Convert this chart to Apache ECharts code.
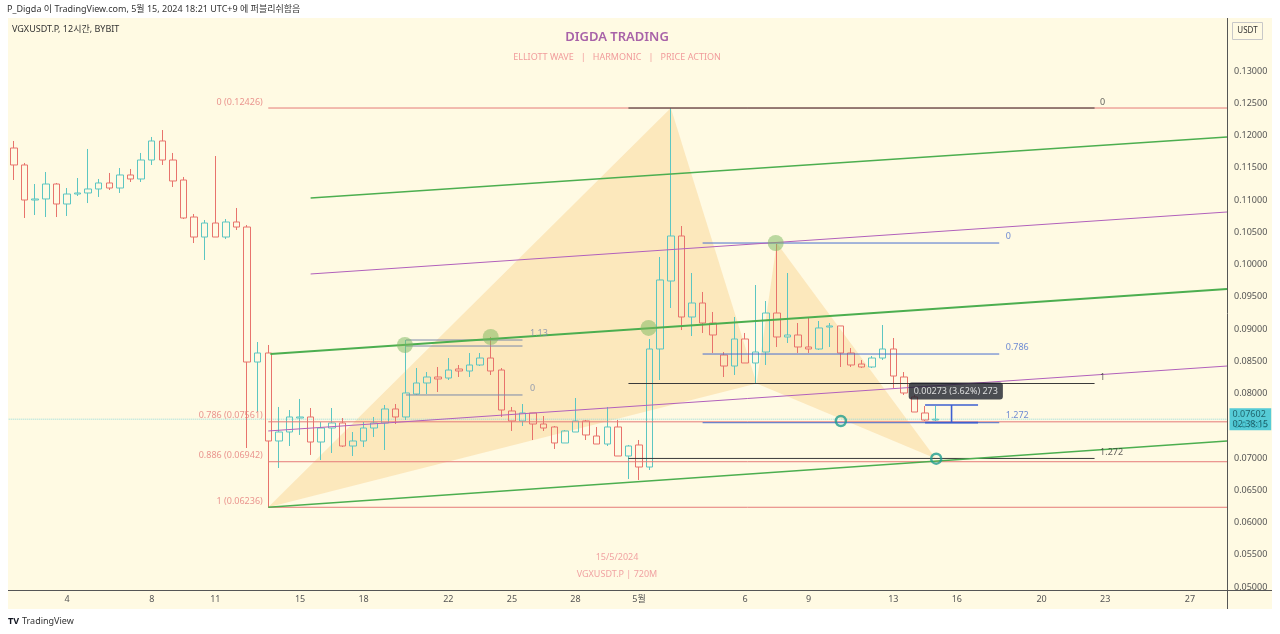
<!DOCTYPE html>
<html>
<head>
<meta charset="utf-8">
<script src="https://cdn.jsdelivr.net/npm/echarts@6/dist/echarts.min.js"></script>
<style>
html, body { margin: 0; padding: 0; background: #fff; }
#wrap { position: relative; width: 1280px; height: 634px; }
#bg { position: absolute; left: 8px; top: 18px; width: 1264px; height: 591px; background: #fffae3; }
#chart { position: absolute; left: 0; top: 0; width: 1280px; height: 634px; }
</style>
</head>
<body>
<div id="wrap"><div id="bg"></div><div id="chart"></div></div>
<script>
var FONT = '"Noto Sans", "Noto Sans CJK KR", sans-serif';

// 12시간봉 [시가, 종가, 저가, 고가]  (4/1 12:00 부터)
var candles = [
    [0.11806, 0.11543, 0.11310, 0.11915],
    [0.11543, 0.11000, 0.10721, 0.11574],
    [0.11000, 0.11016, 0.10767, 0.11248],
    [0.11016, 0.11248, 0.10736, 0.11434],
    [0.11248, 0.10938, 0.10736, 0.11264],
    [0.10938, 0.11093, 0.10752, 0.11186],
    [0.11093, 0.11109, 0.11062, 0.11341],
    [0.11109, 0.11171, 0.10953, 0.11791],
    [0.11171, 0.11264, 0.11047, 0.11326],
    [0.11264, 0.11186, 0.11155, 0.11419],
    [0.11186, 0.11388, 0.11109, 0.11496],
    [0.11388, 0.11326, 0.11279, 0.11481],
    [0.11326, 0.11620, 0.11279, 0.11729],
    [0.11620, 0.11915, 0.11543, 0.11977],
    [0.11915, 0.11620, 0.11543, 0.12085],
    [0.11620, 0.11295, 0.11202, 0.11729],
    [0.11310, 0.10721, 0.10705, 0.11357],
    [0.10736, 0.10426, 0.10333, 0.10783],
    [0.10426, 0.10643, 0.10070, 0.10690],
    [0.10643, 0.10426, 0.10426, 0.11682],
    [0.10426, 0.10659, 0.10395, 0.10705],
    [0.10659, 0.10581, 0.10535, 0.10876],
    [0.10581, 0.08488, 0.07155, 0.10612],
    [0.08488, 0.08628, 0.07713, 0.08798],
    [0.08628, 0.07264, 0.06236, 0.08752],
    [0.07264, 0.07403, 0.06845, 0.07791],
    [0.07403, 0.07636, 0.07186, 0.07744],
    [0.07620, 0.07636, 0.07357, 0.07915],
    [0.07636, 0.07248, 0.07047, 0.07775],
    [0.07248, 0.07465, 0.06969, 0.07558],
    [0.07465, 0.07543, 0.07078, 0.07775],
    [0.07543, 0.07186, 0.07171, 0.07620],
    [0.07186, 0.07264, 0.07031, 0.07403],
    [0.07264, 0.07465, 0.07171, 0.07558],
    [0.07465, 0.07543, 0.07326, 0.07636],
    [0.07543, 0.07760, 0.07124, 0.07822],
    [0.07760, 0.07636, 0.07527, 0.07837],
    [0.07636, 0.08008, 0.07589, 0.08829],
    [0.07992, 0.08163, 0.07977, 0.08395],
    [0.08163, 0.08256, 0.07992, 0.08333],
    [0.08256, 0.08225, 0.08023, 0.08411],
    [0.08240, 0.08364, 0.08209, 0.08550],
    [0.08380, 0.08349, 0.08256, 0.08442],
    [0.08349, 0.08442, 0.08256, 0.08628],
    [0.08442, 0.08550, 0.08426, 0.08628],
    [0.08550, 0.08349, 0.08287, 0.08876],
    [0.08364, 0.07744, 0.07636, 0.08395],
    [0.07729, 0.07574, 0.07419, 0.07791],
    [0.07574, 0.07698, 0.07496, 0.07837],
    [0.07698, 0.07527, 0.07279, 0.07698],
    [0.07527, 0.07465, 0.07419, 0.07651],
    [0.07481, 0.07233, 0.07140, 0.07496],
    [0.07233, 0.07419, 0.07233, 0.07434],
    [0.07403, 0.07574, 0.07403, 0.07930],
    [0.07574, 0.07357, 0.07279, 0.07589],
    [0.07341, 0.07217, 0.07217, 0.07481],
    [0.07217, 0.07481, 0.07186, 0.07791],
    [0.07481, 0.07031, 0.07031, 0.07589],
    [0.07031, 0.07186, 0.06674, 0.07202],
    [0.07202, 0.06860, 0.06659, 0.07279],
    [0.06860, 0.08690, 0.06814, 0.08845],
    [0.08690, 0.09760, 0.08209, 0.10116],
    [0.09744, 0.10442, 0.09326, 0.12426],
    [0.10442, 0.09186, 0.08984, 0.10597],
    [0.09186, 0.09403, 0.08891, 0.09868],
    [0.09403, 0.09093, 0.08938, 0.09574],
    [0.09093, 0.08907, 0.08628, 0.09264],
    [0.08597, 0.08426, 0.08256, 0.08643],
    [0.08426, 0.08845, 0.08287, 0.09186],
    [0.08845, 0.08473, 0.08473, 0.08938],
    [0.08473, 0.08643, 0.08163, 0.09682],
    [0.08643, 0.09248, 0.08442, 0.09434],
    [0.09248, 0.08876, 0.08721, 0.10318],
    [0.08876, 0.08907, 0.08783, 0.09868],
    [0.08907, 0.08721, 0.08628, 0.09093],
    [0.08721, 0.08690, 0.08628, 0.09186],
    [0.08690, 0.09016, 0.08674, 0.09124],
    [0.09031, 0.09047, 0.08721, 0.09093],
    [0.09047, 0.08628, 0.08411, 0.09047],
    [0.08628, 0.08442, 0.08411, 0.08705],
    [0.08457, 0.08411, 0.08395, 0.08519],
    [0.08411, 0.08550, 0.08395, 0.08581],
    [0.08550, 0.08690, 0.08519, 0.09062],
    [0.08690, 0.08271, 0.08085, 0.08860],
    [0.08256, 0.08008, 0.07977, 0.08333],
    [0.07946, 0.07713, 0.07713, 0.07977],
    [0.07698, 0.07589, 0.07574, 0.07806],
    [0.07589, 0.07602, 0.07574, 0.07806]
];
var lastPrice = 0.07602;
var countdown = '02:38:15';

// x축 눈금
var tickDates = ['04-04 00', '04-08 00', '04-11 00', '04-15 00', '04-18 00', '04-22 00', '04-25 00', '04-28 00',
    '05-01 00', '05-06 00', '05-09 00', '05-13 00', '05-16 00', '05-20 00', '05-23 00', '05-27 00'];
var tickLabels = ['4', '8', '11', '15', '18', '22', '25', '28', '5월', '6', '9', '13', '16', '20', '23', '27'];

// 피보나치 되돌림 (빨강) - 봉 번호 범위, 레벨, 가격
var fibRedRange = [24, 114.5];
var fibRedLevels = ['0', '0.786', '0.886', '1'];
var fibRedPrices = [0.12426, 0.07561, 0.06942, 0.06236];
// 피보나치 (검정)
var fibBlackRange = [58, 102];
var fibBlackLevels = ['0', '1', '1.272'];
var fibBlackPrices = [0.12426, 0.08155, 0.06993];
// 피보나치 (파랑)
var fibBlueRange = [65, 93];
var fibBlueLevels = ['0', '0.786', '1.272'];
var fibBluePrices = [0.10333, 0.08612, 0.07547];
// 작은 피보나치 (왼쪽)
var fibSmallRange = [37, 48];
var fibSmallLevels = ['1.13', '', '0'];
var fibSmallPrices = [0.08829, 0.08736, 0.07977];

// 추세선 [[봉, 가격], [봉, 가격]]
var greenLines = [
    [[28, 0.11031], [114.5, 0.11977]],
    [[24.2, 0.08612], [114.5, 0.09620]],
    [[24, 0.06236], [114.5, 0.07264]]
];
var greenWidths = [1.5, 2, 1.5];
var purpleLines = [
    [[28, 0.09853], [114.5, 0.10814]],
    [[24, 0.07419], [114.5, 0.08426]]
];

// 하모닉 XABCD
var patternX = [24, 62, 70.1, 72, 87];
var patternP = [0.06236, 0.12426, 0.08155, 0.10333, 0.06993];
var patternTris = [[0, 1, 2], [2, 3, 4]];

// 표시 점
var greenDots = [[36.9, 0.08752], [45, 0.08876], [59.9, 0.09016], [71.9, 0.10333]];
var tealRings = [[78.05, 0.07574], [87.05, 0.06990]];

// 측정 도구
var measureX = [86, 91, 88.5];
var measureP = [0.07822, 0.07549];
var measureText = '0.00273 (3.62%) 273';
var measureLabelPos = [88.9, 0.08039];

// ======================================카테고리======================================
var N = 115;
function pad(n) { return (n < 10 ? '0' : '') + n; }
var categories = [];
var t0 = Date.UTC(2024, 3, 1, 12);
for (var i = 0; i < N; i++) {
    var d = new Date(t0 + i * 12 * 3600 * 1000);
    categories.push(pad(d.getUTCMonth() + 1) + '-' + pad(d.getUTCDate()) + ' ' + pad(d.getUTCHours()));
}

var series = [];

// 하모닉 삼각형
series.push({
    type: 'custom',
    xAxisIndex: 1,
    z: 1,
    silent: true,
    data: patternTris.map(function (t, i) { return [i]; }),
    renderItem: function (params, api) {
        var tri = patternTris[params.dataIndex];
        var pts = tri.map(function (j) { return api.coord([patternX[j], patternP[j]]); });
        return { type: 'polygon', shape: { points: pts }, style: { fill: 'rgba(245,195,115,0.34)' } };
    }
});

// 캔들
series.push({
    type: 'candlestick',
    xAxisIndex: 0,
    z: 2,
    barWidth: 7,
    data: candles,
    itemStyle: {
        color: 'rgba(0,0,0,0)',
        color0: 'rgba(0,0,0,0)',
        borderColor: '#5cc6c2',
        borderColor0: '#e8736c',
        borderWidth: 1
    }
});

// 선분
function seg(a, b, color, width, z, type) {
    series.push({
        type: 'line',
        xAxisIndex: 1,
        z: z || 3,
        silent: true,
        showSymbol: false,
        symbol: 'none',
        data: [a, b],
        lineStyle: { color: color, width: width, type: type || 'solid' }
    });
}

var labels = [];
function fibDraw(range, levels, prices, color, side, dx, dy, withPrice) {
    for (var i = 0; i < prices.length; i++) {
        seg([range[0], prices[i]], [range[1], prices[i]], color, 1);
        if (levels[i] === '') continue;
        labels.push({
            value: [side === 'left' ? range[0] : range[1], prices[i]],
            label: {
                show: true,
                position: side,
                distance: 0,
                offset: [dx, dy],
                formatter: withPrice ? levels[i] + ' (' + prices[i].toFixed(5) + ')' : levels[i],
                color: color,
                fontSize: 9
            }
        });
    }
}

// 현재가 라인
seg([-0.5, lastPrice], [N - 0.5, lastPrice], '#8fd9dc', 1, 2, 'dotted');

fibDraw(fibRedRange, fibRedLevels, fibRedPrices, '#e57a78', 'left', -5, -6, true);
fibDraw(fibBlackRange, fibBlackLevels, fibBlackPrices, '#3a3a3a', 'right', 5, -6, false);
fibDraw(fibBlueRange, fibBlueLevels, fibBluePrices, '#4a6fd0', 'right', 6, -7, false);
fibDraw(fibSmallRange, fibSmallLevels, fibSmallPrices, '#7b8aaa', 'right', 7, -7, false);

greenLines.forEach(function (l, i) { seg(l[0], l[1], '#4cae4f', greenWidths[i]); });
purpleLines.forEach(function (l) { seg(l[0], l[1], '#b160bb', 1); });

// 측정 도구
seg([measureX[0], measureP[0]], [measureX[1], measureP[0]], '#3d5fd1', 1.6, 4);
seg([measureX[0], measureP[1]], [measureX[1], measureP[1]], '#3d5fd1', 1.6, 4);
seg([measureX[2], measureP[0]], [measureX[2], measureP[1]], '#3d5fd1', 1.6, 4);

labels.push({
    value: measureLabelPos,
    label: {
        show: true,
        position: 'inside',
        formatter: measureText,
        backgroundColor: '#1e222d',
        color: '#ffffff',
        fontSize: 9,
        padding: [4, 5],
        borderRadius: 3
    }
});

// 가격 태그
labels.push({
    value: [N - 0.5, lastPrice],
    label: {
        show: true,
        position: 'right',
        distance: 2,
        formatter: lastPrice.toFixed(5) + '\n' + countdown,
        backgroundColor: '#2bbfd2',
        color: '#134a52',
        fontSize: 9,
        lineHeight: 10,
        padding: [1, 3]
    }
});

series.push({
    type: 'scatter',
    xAxisIndex: 1,
    z: 4,
    silent: true,
    symbolSize: 16,
    itemStyle: { color: 'rgba(125,185,95,0.65)' },
    data: greenDots
});
series.push({
    type: 'scatter',
    xAxisIndex: 1,
    z: 5,
    silent: true,
    symbol: 'circle',
    symbolSize: 10,
    itemStyle: { color: 'rgba(0,0,0,0)', borderColor: '#1f9e8f', borderWidth: 2.5 },
    data: tealRings
});
series.push({
    type: 'scatter',
    xAxisIndex: 1,
    z: 6,
    silent: true,
    clip: false,
    symbolSize: 1,
    itemStyle: { color: 'rgba(0,0,0,0)' },
    data: labels
});

var chart = echarts.init(document.getElementById('chart'));
var option = {
    animation: false,
    backgroundColor: 'transparent',
    textStyle: { fontFamily: FONT },
    grid: { left: 8.7, right: 53, top: 38.75, bottom: 47 },
    xAxis: [{
        type: 'category',
        data: categories,
        boundaryGap: true,
        axisLine: { show: false },
        axisTick: { show: false },
        splitLine: { show: false },
        axisLabel: {
            interval: function (idx, val) { return tickDates.indexOf(val) >= 0; },
            formatter: function (val) { return tickLabels[tickDates.indexOf(val)]; },
            color: '#555',
            fontSize: 9,
            margin: 8
        }
    }, {
        type: 'value',
        min: -0.5,
        max: N - 0.5,
        show: false
    }],
    yAxis: {
        type: 'value',
        position: 'right',
        min: 0.05,
        max: 0.135,
        interval: 0.005,
        axisLine: { show: false },
        axisTick: { show: false },
        splitLine: { show: false },
        axisLabel: {
            color: '#555',
            fontSize: 9,
            margin: 7,
            formatter: function (v) { return v > 0.1301 ? '' : v.toFixed(5); }
        }
    },
    graphic: [
        { type: 'line', shape: { x1: 1227.5, y1: 18, x2: 1227.5, y2: 609 }, style: { stroke: '#555', lineWidth: 1 } },
        { type: 'line', shape: { x1: 8, y1: 590.5, x2: 1272, y2: 590.5 }, style: { stroke: '#555', lineWidth: 1 } },
        { type: 'text', x: 7, y: 9, style: { text: 'P_Digda 이 TradingView.com, 5월 15, 2024 18:21 UTC+9 에 퍼블리쉬함음', fill: '#333', font: '9px ' + FONT, textVerticalAlign: 'middle' } },
        { type: 'text', x: 12, y: 29, style: { text: 'VGXUSDT.P, 12시간, BYBIT', fill: '#333', font: '9px ' + FONT, textVerticalAlign: 'middle' } },
        { type: 'rect', shape: { x: 1232.5, y: 22.5, width: 30, height: 17 }, style: { fill: '#fffae3', stroke: '#c8c8c8', lineWidth: 1 } },
        { type: 'text', x: 1247.5, y: 31, style: { text: 'USDT', fill: '#333', font: '8px ' + FONT, textAlign: 'center', textVerticalAlign: 'middle' } },
        { type: 'text', x: 617, y: 37, style: { text: 'DIGDA TRADING', fill: '#a862a8', font: '600 13px ' + FONT, textAlign: 'center', textVerticalAlign: 'middle' } },
        { type: 'text', x: 617, y: 57, style: { text: 'ELLIOTT WAVE   |   HARMONIC   |   PRICE ACTION', fill: '#f19c9c', font: '9px ' + FONT, textAlign: 'center', textVerticalAlign: 'middle' } },
        { type: 'text', x: 617, y: 557, style: { text: '15/5/2024', fill: '#f1a3a3', font: '9px ' + FONT, textAlign: 'center', textVerticalAlign: 'middle' } },
        { type: 'text', x: 617, y: 574, style: { text: 'VGXUSDT.P | 720M', fill: '#f1a3a3', font: '9px ' + FONT, textAlign: 'center', textVerticalAlign: 'middle' } },
        { type: 'text', x: 8, y: 621, style: { text: 'TV', fill: '#131722', font: 'bold 9px ' + FONT, textVerticalAlign: 'middle' } },
        { type: 'text', x: 22, y: 621, style: { text: 'TradingView', fill: '#333', font: '9px ' + FONT, textVerticalAlign: 'middle' } }
    ],
    series: series
};
chart.setOption(option);

window.addEventListener('resize', function () {
    chart.resize();
});
</script>
</body>
</html>
